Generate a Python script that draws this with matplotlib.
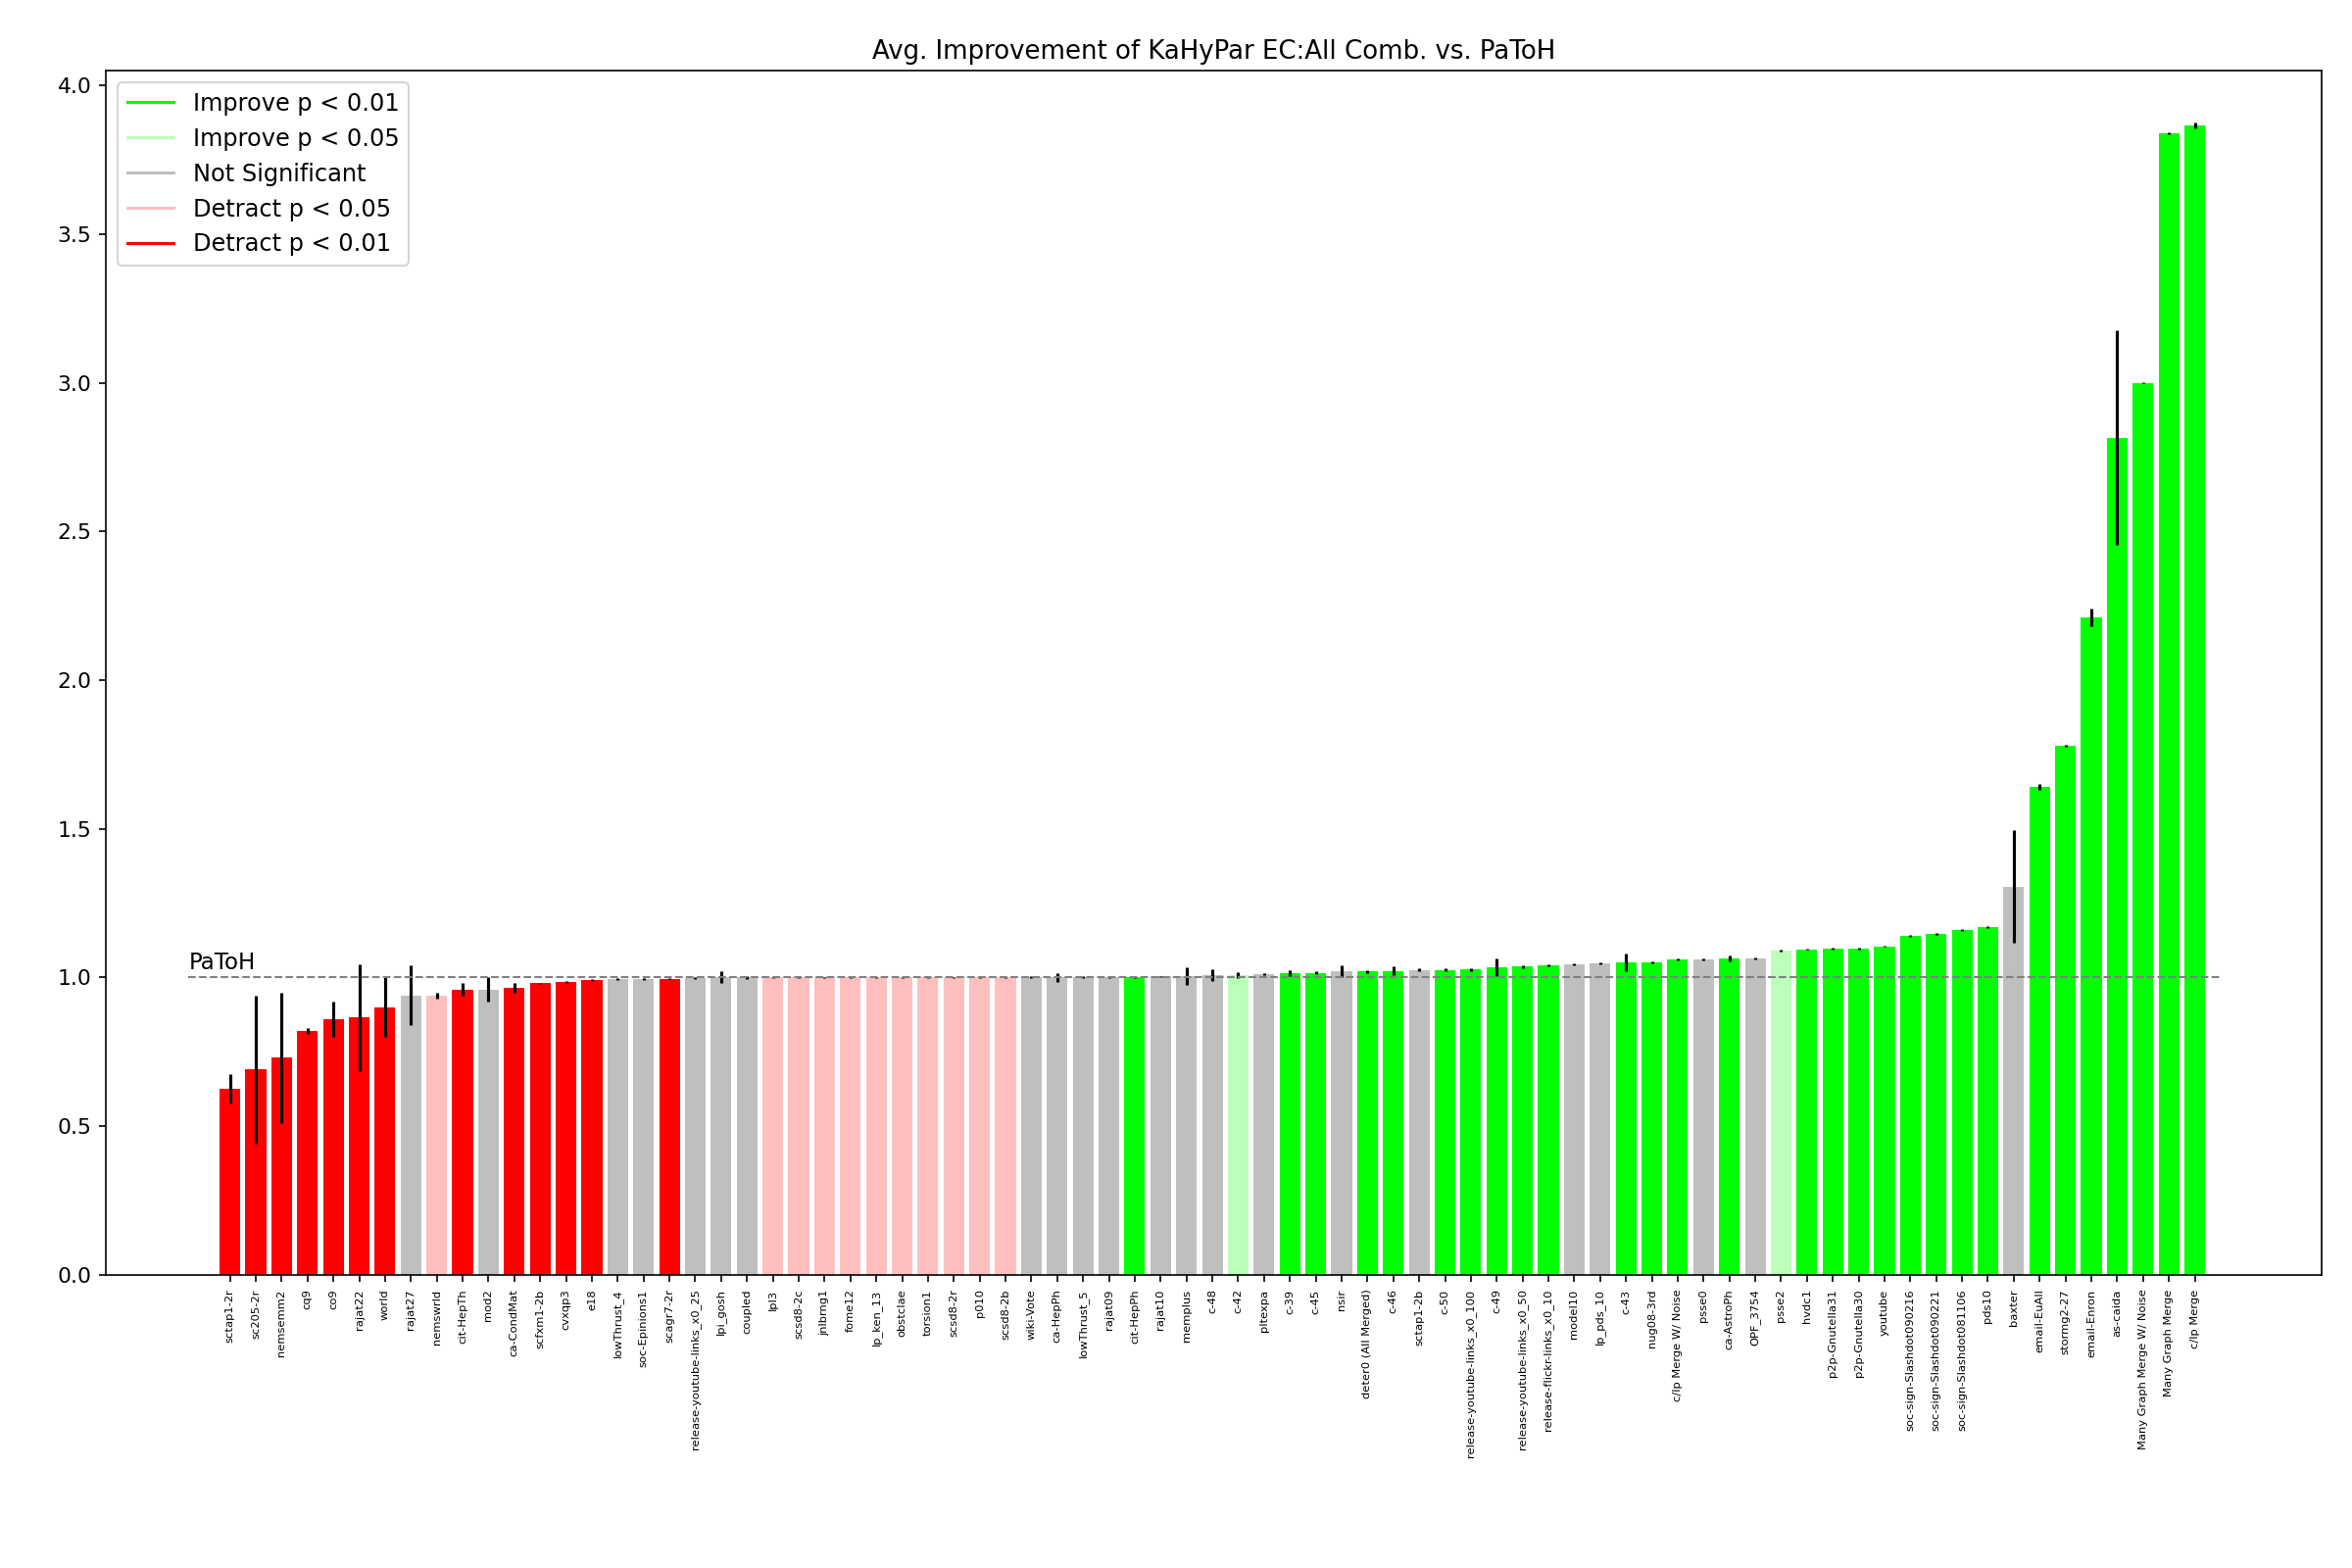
import matplotlib
matplotlib.use("Agg")
import matplotlib.pyplot as plt
from matplotlib.lines import Line2D

labels = ["sctap1-2r","sc205-2r","nemsemm2","cq9","co9","rajat22","world","rajat27","nemswrld","cit-HepTh",
"mod2","ca-CondMat","scfxm1-2b","cvxqp3","e18","lowThrust_4","soc-Epinions1","scagr7-2r","release-youtube-links_x0_25","lpi_gosh",
"coupled","lpl3","scsd8-2c","jnlbrng1","fome12","lp_ken_13","obstclae","torsion1","scsd8-2r","p010",
"scsd8-2b","wiki-Vote","ca-HepPh","lowThrust_5","rajat09","cit-HepPh","rajat10","memplus","c-48","c-42",
"pltexpa","c-39","c-45","nsir","deter0 (All Merged)","c-46","sctap1-2b","c-50","release-youtube-links_x0_100","c-49",
"release-youtube-links_x0_50","release-flickr-links_x0_10","model10","lp_pds_10","c-43","nug08-3rd","c/lp Merge W/ Noise","psse0","ca-AstroPh","OPF_3754",
"psse2","hvdc1","p2p-Gnutella31","p2p-Gnutella30","youtube","soc-sign-Slashdot090216","soc-sign-Slashdot090221","soc-sign-Slashdot081106","pds10","baxter",
"email-EuAll","stormg2-27","email-Enron","as-caida","Many Graph Merge W/ Noise","Many Graph Merge","c/lp Merge"]

values = [0.625,0.69,0.73,0.82,0.86,0.865,0.90,0.94,0.94,0.96,
0.96,0.965,0.98,0.985,0.99,0.995,0.995,0.995,0.998,1.0,
1.0,1.0,1.0,1.0,1.0,1.0,1.0,1.0,1.0,1.0,
1.0,1.0,1.0,1.0,1.0,1.0,1.003,1.005,1.007,1.008,
1.01,1.013,1.015,1.02,1.02,1.022,1.025,1.025,1.027,1.035,
1.037,1.04,1.045,1.048,1.05,1.052,1.06,1.06,1.065,1.065,
1.09,1.095,1.097,1.097,1.105,1.14,1.145,1.16,1.17,1.305,
1.64,1.78,2.21,2.815,3.0,3.84,3.865]

errors = [0.05,0.25,0.22,0.01,0.06,0.18,0.1,0.1,0.01,0.02,
0.04,0.015,0.003,0.003,0.003,0.003,0.003,0.002,0.003,0.02,
0.005,0.002,0.002,0.002,0.002,0.002,0.002,0.002,0.002,0.002,
0.002,0.003,0.015,0.003,0.003,0.003,0.003,0.03,0.02,0.01,
0.003,0.01,0.005,0.02,0.005,0.015,0.005,0.005,0.005,0.03,
0.005,0.003,0.003,0.003,0.03,0.003,0.003,0.003,0.01,0.003,
0.003,0.003,0.003,0.003,0.003,0.003,0.003,0.003,0.003,0.19,
0.01,0.003,0.03,0.36,0.003,0.003,0.01]

classes = ["R","R","R","R","R","R","R","G","LR","R",
"G","R","R","R","R","G","G","R","G","G",
"G","LR","LR","LR","LR","LR","LR","LR","LR","LR",
"LR","G","G","G","G","GR","G","G","G","LG",
"G","GR","GR","G","GR","GR","G","GR","GR","GR",
"GR","GR","G","G","GR","GR","GR","G","GR","G",
"LG","GR","GR","GR","GR","GR","GR","GR","GR","G",
"GR","GR","GR","GR","GR","GR","GR"]

legend_names = ["Improve p < 0.01","Improve p < 0.05","Not Significant","Detract p < 0.05","Detract p < 0.01"]
legend_keys = ["GR","LG","G","LR","R"]
cmap = {"GR":"#00ff00","LG":"#bbffbb","G":"#bfbfbf","LR":"#ffbfbf","R":"#ff0000"}

fig = plt.figure(figsize=(16, 10.667), dpi=150)
ax = fig.add_axes([0.045, 0.187, 0.942, 0.768])
x = list(range(len(labels)))
ax.bar(x, values, width=0.8, color=[cmap[c] for c in classes], yerr=errors,
       ecolor="black", error_kw=dict(elinewidth=1.5, capsize=0))
ax.plot([-1.6, 77], [1.0, 1.0], "--", color="gray", linewidth=1)
ax.text(-1.6, 1.01, "PaToH", fontsize=11, ha="left", va="bottom")
ax.set_xticks(x)
ax.set_xticklabels(labels, rotation=90, fontsize=5.5)
ax.set_xlim(-4.8, 80.9)
ax.set_ylim(0, 4.05)
ax.tick_params(axis="y", labelsize=10.5)
ax.set_title("Avg. Improvement of KaHyPar EC:All Comb. vs. PaToH", fontsize=12.5)
handles = [Line2D([0],[0], color=cmap[k], lw=1.5) for k in legend_keys]
ax.legend(handles, legend_names, loc="upper left", fontsize=11.5)
fig.savefig("out.png", dpi=150)
